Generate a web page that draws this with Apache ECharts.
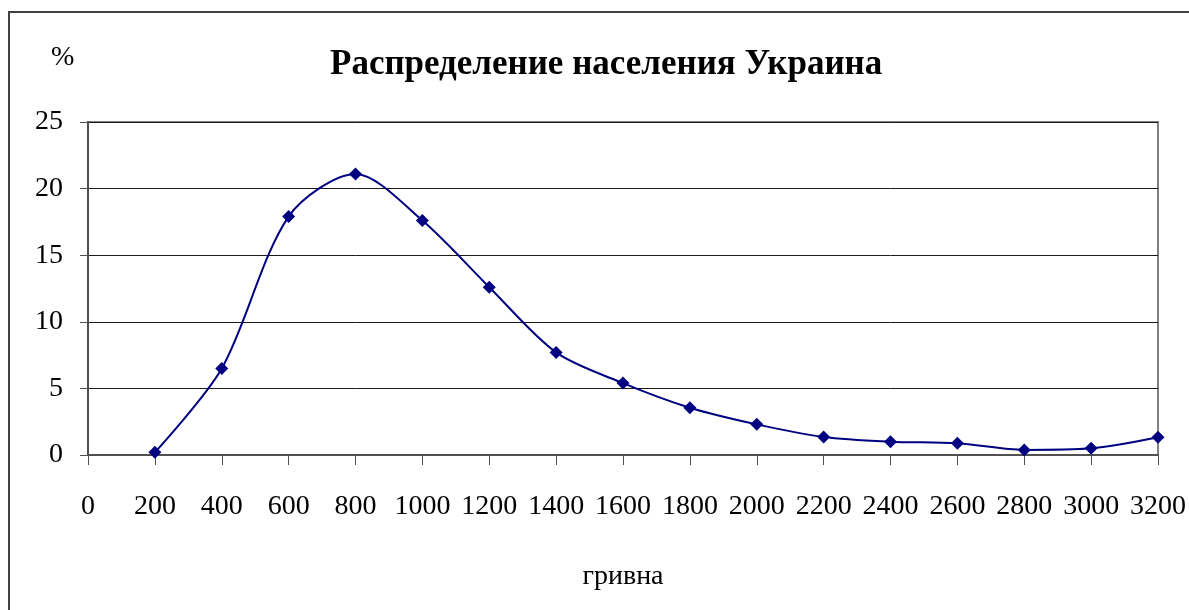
<!DOCTYPE html>
<html>
<head>
<meta charset="utf-8">
<script src="https://cdn.jsdelivr.net/npm/echarts@6/dist/echarts.min.js"></script>
<style>
  html, body { margin: 0; padding: 0; background: #fff; }
  #chart { width: 1189px; height: 610px; }
</style>
</head>
<body>
<div id="chart"></div>
<script>
// доход, гривна
var incomes = [200, 400, 600, 800, 1000, 1200, 1400, 1600, 1800, 2000, 2200, 2400, 2600, 2800, 3000, 3200]
// доля населения, %
var shares = [0.2, 6.5, 17.9, 21.1, 17.6, 12.6, 7.7, 5.4, 3.55, 2.3, 1.35, 1.0, 0.88, 0.38, 0.5, 1.33]

var titleText = 'Распределение населения Украина'
var xName = 'гривна'
var yName = '%'

var serif = '"Liberation Serif", "DejaVu Serif", serif'

var points = []
for (var i = 0; i < incomes.length; i++) {
  points.push([incomes[i], shares[i]])
}

var myChart = echarts.init(document.getElementById('chart'))
myChart.setOption({
  animation: false,
  backgroundColor: '#fff',
  title: {
    text: titleText,
    left: 325,
    top: 42,
    textStyle: {
      fontFamily: serif,
      fontWeight: 'bold',
      fontSize: 35,
      color: '#000'
    }
  },
  graphic: [
    {
      type: 'rect',
      shape: { x: 9, y: 12, width: 1300, height: 700 },
      style: { fill: 'none', stroke: '#404040', lineWidth: 2 },
      silent: true
    },
    {
      type: 'text',
      left: 51,
      top: 44,
      style: { text: yName, font: '28px ' + serif, fill: '#000' }
    }
  ],
  grid: {
    left: 88,
    right: 29,
    top: 122,
    bottom: 155,
    show: true,
    borderColor: '#808080',
    borderWidth: 2
  },
  xAxis: {
    type: 'value',
    min: 0,
    max: 3200,
    interval: 200,
    name: xName,
    nameLocation: 'middle',
    nameGap: 108,
    nameTextStyle: { fontFamily: serif, fontSize: 28, color: '#000' },
    axisLine: { lineStyle: { color: '#505050', width: 2 } },
    axisTick: { show: true, length: 10, lineStyle: { color: '#505050', width: 1 } },
    axisLabel: {
      margin: 38,
      fontFamily: serif,
      fontSize: 28,
      color: '#000',
      formatter: function (v) { return String(v) }
    },
    splitLine: { show: false }
  },
  yAxis: {
    type: 'value',
    min: 0,
    max: 25,
    interval: 5,
    axisLine: { show: true, lineStyle: { color: '#505050', width: 2 } },
    axisTick: { show: true, length: 8, lineStyle: { color: '#505050', width: 1 } },
    axisLabel: { margin: 25, fontFamily: serif, fontSize: 28, color: '#000' },
    splitLine: { show: true, lineStyle: { color: '#1a1a1a', width: 1 } }
  },
  series: [{
    type: 'line',
    data: points,
    smooth: 0.3,
    symbol: 'diamond',
    symbolSize: 13,
    lineStyle: { color: '#000080', width: 2 },
    itemStyle: { color: '#000080' }
  }]
})
</script>
</body>
</html>
